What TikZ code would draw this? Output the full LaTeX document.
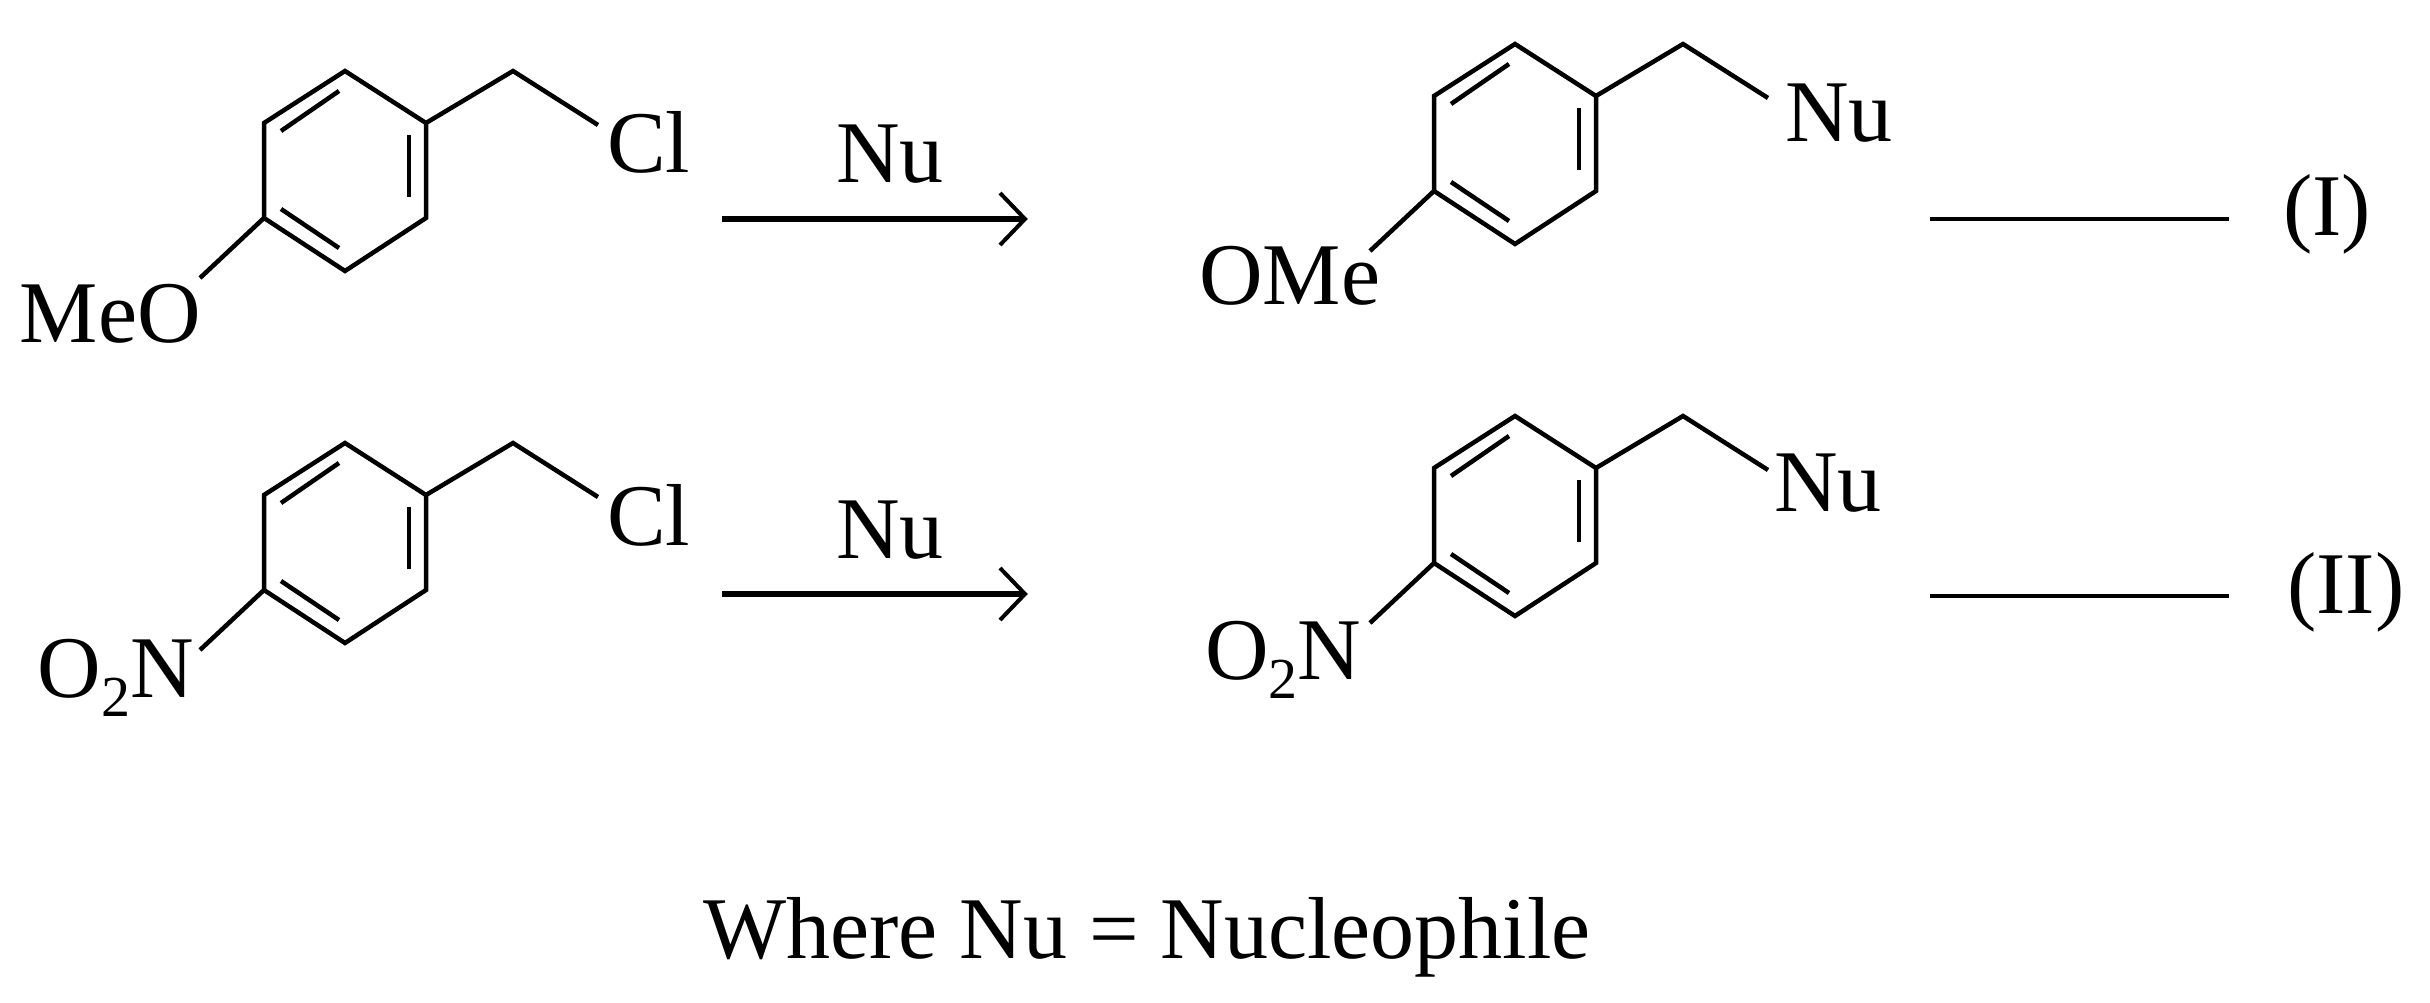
\documentclass[tikz,border=0pt]{standalone}
\usepackage{fontspec}
\setmainfont{Liberation Serif}
\begin{document}
\begin{tikzpicture}[x=1pt,y=-1pt,line width=4.5pt,line join=miter,
  lbl/.style={inner sep=0pt,font=\fontsize{88}{100}\selectfont},
  bond/.style={line width=4.5pt}]
\useasboundingbox (0,0) rectangle (2430,1003);
\newcommand\ringsub[1]{%
  \begin{scope}[shift={#1}]
    \draw[bond] (0,-100) -- (81,-48) -- (81,47) -- (0,100) -- (-81,47) -- (-81,-48) -- cycle;
    \draw[bond] (-6,-80) -- (-64,-40);
    \draw[bond] (64,-36) -- (64,26);
    \draw[bond] (-64,38) -- (-6,77);
    \draw[bond] (81,-48) -- (168,-100) -- (253,-46);
    \draw[bond] (-81,47) -- (-145,107);
  \end{scope}}
% reactant I
\ringsub{(345,171)}
\node[lbl,anchor=base east] (meo) at (203,342) {MeO};
\node[lbl,anchor=base west] (cl1) at (605,173) {Cl};
% arrow I
\coordinate (a1s) at (722,219); \coordinate (a1e) at (1025,219);
\draw[line width=5.5pt] (a1s) -- (a1e);
\draw[line width=4pt] (1000,193) -- (a1e) -- (1000,245);
\node[lbl,anchor=base] (nu1) at (890,183) {Nu};
% product I
\ringsub{(1515,144)}
\node[lbl,anchor=base west] (ome) at (1197,304) {OMe};
\node[lbl,anchor=base west] (pnu1) at (1783,142) {Nu};
\coordinate (l1s) at (1930,219); \coordinate (l1e) at (2229,219);
\draw (l1s) -- (l1e);
\node[lbl,anchor=base west] (lab1) at (2281,236) {(I)};
% reactant II
\ringsub{(345,543)}
\node[lbl,anchor=base east] (o2n1) at (196,697) {O\raisebox{-0.22em}{\fontsize{58}{60}\selectfont 2}N};
\node[lbl,anchor=base west] (cl2) at (605,545) {Cl};
\coordinate (a2s) at (722,594); \coordinate (a2e) at (1025,594);
\draw[line width=5.5pt] (a2s) -- (a2e);
\draw[line width=4pt] (1000,568) -- (a2e) -- (1000,620);
\node[lbl,anchor=base] (nu2) at (890,558) {Nu};
% product II
\ringsub{(1515,516)}
\node[lbl,anchor=base west] (o2n2) at (1203,679) {O\raisebox{-0.22em}{\fontsize{58}{60}\selectfont 2}N};
\node[lbl,anchor=base west] (pnu2) at (1772,511) {Nu};
\coordinate (l2s) at (1930,596); \coordinate (l2e) at (2229,596);
\draw (l2s) -- (l2e);
\node[lbl,anchor=base west] (lab2) at (2285,613) {(II)};
\node[lbl,anchor=base] (where) at (1147,958) {Where Nu = Nucleophile};
\end{tikzpicture}
\end{document}
